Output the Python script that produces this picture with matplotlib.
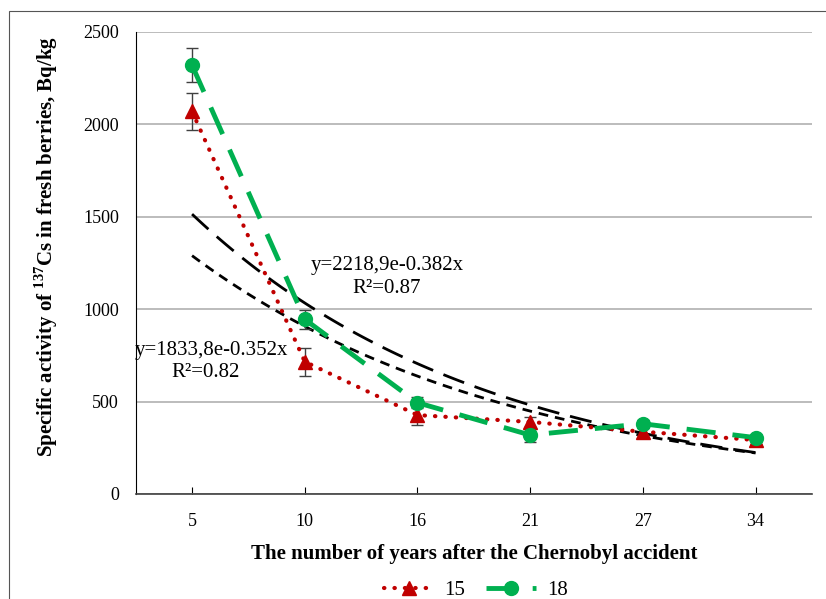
import matplotlib.pyplot as plt
import matplotlib.patches as patches
import numpy as np

plt.rcParams['font.family'] = 'Liberation Serif'
plt.rcParams['mathtext.fontset'] = 'custom'
plt.rcParams['mathtext.rm'] = 'Liberation Serif'
plt.rcParams['mathtext.bf'] = 'Liberation Serif:bold'

# data
years = ['5', '10', '16', '21', '27', '34']
berries_15 = [2070, 716, 427, 390, 337, 292]
err_15 = [98, 76, 55, 25, 20, 20]
berries_18 = [2320, 945, 494, 319, 380, 305]
err_18 = [93, 50, 30, 35, 20, 15]

# exponential trendlines (as printed on the chart)
fit_15 = (1833.8, -0.352, 0.82)
fit_18 = (2218.9, -0.382, 0.87)

x = np.arange(1, len(years) + 1)

fig = plt.figure(figsize=(8.26, 5.99), dpi=100)
ax = fig.add_axes([0.1643, 0.1753, 0.8187, 0.7713])

# figure frame (only left and top edges show in the picture)
fig.patches.append(patches.Rectangle((9 / 826, -0.1), 1.2, (599 - 11) / 599 + 0.1,
                                     transform=fig.transFigure, fill=False,
                                     edgecolor='#555555', linewidth=0.8))

# trendlines
xs = np.linspace(1, 6, 100)
ax.plot(xs, fit_18[0] * np.exp(fit_18[1] * xs), color='black', lw=2,
        dashes=(8, 4), zorder=2)
ax.plot(xs, fit_15[0] * np.exp(fit_15[1] * xs), color='black', lw=2,
        dashes=(3.5, 2.5), zorder=2)

# series
ax.errorbar(x, berries_15, yerr=err_15, fmt='none', ecolor='#404040',
            elinewidth=1, capsize=4, capthick=1, zorder=3)
ax.errorbar(x, berries_18, yerr=err_18, fmt='none', ecolor='#404040',
            elinewidth=1, capsize=4, capthick=1, zorder=3)
ax.plot(x, berries_15, color='#c00000', lw=3, linestyle=(0, (0.1, 2.4)),
        dash_capstyle='round', marker='^', markersize=10, label='15', zorder=4)
ax.plot(x, berries_18, color='#00b050', lw=3.5, dashes=(6, 3.5),
        marker='o', markersize=10, label='18', zorder=5)

ax.text(2.73, 1235, 'y=2218,9e-0.382x', fontsize=15, ha='center', va='center')
ax.text(2.73, 1110, 'R²=0.87', fontsize=15, ha='center', va='center')
ax.text(1.17, 779, 'y=1833,8e-0.352x', fontsize=15, ha='center', va='center')
ax.text(1.12, 655, 'R²=0.82', fontsize=15, ha='center', va='center')

ax.set_xlim(0.5, 6.5)
ax.set_ylim(0, 2500)
ax.set_xticks(x)
ax.set_xticklabels(years)
ax.set_yticks(np.arange(0, 2501, 500))
ax.grid(axis='y', color='#b0b0b0', lw=1.2)
ax.set_axisbelow(True)
for s in ['top', 'right']:
    ax.spines[s].set_visible(False)
ax.spines['left'].set_color('black')
ax.spines['bottom'].set_color('#404040')
ax.spines['bottom'].set_linewidth(1.2)
ax.tick_params(axis='y', length=0, labelsize=13, pad=12)
ax.tick_params(axis='x', direction='in', length=5, labelsize=13, pad=14)

ax.set_xlabel('The number of years after the Chernobyl accident', fontsize=15,
              fontweight='bold', labelpad=10)
ax.set_ylabel(r'Specific activity of $^{\mathbf{137}}$Cs in fresh berries, Bq/kg',
              fontsize=15, fontweight='bold')
ax.yaxis.set_label_coords(-0.112, 0.535)

ax.legend(loc='lower center', bbox_to_anchor=(0.503, -0.27), ncol=2,
          frameon=False, fontsize=15, handlelength=2.4, handletextpad=0.5,
          columnspacing=1.0)

fig.savefig('out.png', dpi=100)
